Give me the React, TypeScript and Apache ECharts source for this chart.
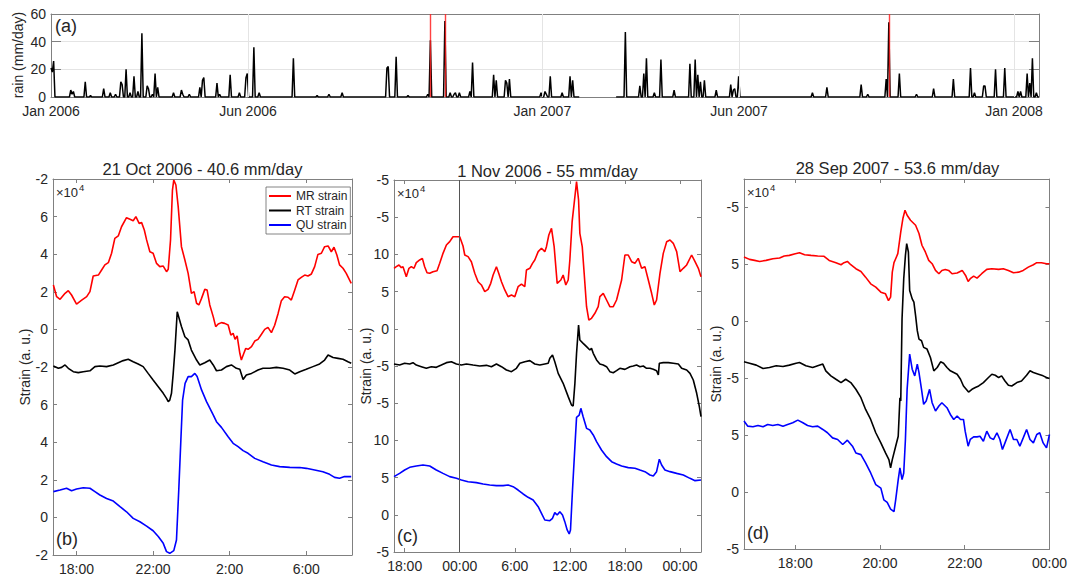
import React, { useEffect, useRef } from 'react';
import * as echarts from 'echarts';

const FONT = '"Liberation Sans", Arial, Helvetica, sans-serif';
const TXT = '#262626';
const AXC = '#808080';
const GRIDC = '#e4e4e4';

// ---------- (a) daily rain, x in plotted days ----------
const RAIN_END = 750;
const RAIN_GAP = [402, 428];
const RAIN_SPIKES: [number, number][] = [
  [0, 21], [1, 18], [2, 26], [15, 5], [16, 2], [17, 4], [26, 11], [30, 1], [40, 6], [45, 3], [49, 2],
  [53, 11], [54, 9], [57, 20], [60, 3], [63, 15], [66, 4], [69, 46], [73, 8], [74, 6], [77, 2], [79, 17],
  [81, 7], [93, 3], [99, 5], [100, 2], [105, 2], [113, 7], [115, 12], [116, 14], [126, 10], [128, 2],
  [136, 16], [143, 3], [148, 14], [149, 17], [154, 36], [158, 3], [184, 28], [202, 1], [211, 2], [221, 3],
  [255, 21], [256, 22], [262, 29], [271, 1], [286, 2], [288, 41], [299, 55], [303, 3], [306, 2], [307, 3],
  [310, 3], [318, 4], [320, 25], [336, 16], [338, 12], [345, 12], [346, 10], [348, 13], [372, 3], [375, 4],
  [376, 2], [379, 15], [388, 3], [394, 15], [396, 12], [436, 47], [447, 8], [450, 17], [452, 28], [458, 3],
  [463, 27], [473, 5], [485, 24], [489, 27], [491, 16], [493, 11], [496, 12], [505, 5], [516, 9], [518, 5],
  [519, 6], [522, 15], [578, 3], [589, 7], [615, 9], [620, 2], [634, 13], [636, 54], [644, 17], [657, 2],
  [670, 6], [685, 13], [698, 21], [701, 3], [708, 8], [709, 8], [717, 20], [724, 21], [734, 4], [736, 4],
  [741, 17], [743, 10], [745, 28], [748, 3],
];
const EVENT_DAYS = [288, 299, 636];
const TOP_TICKS = [0, 149.5, 373, 522.3, 731];
const TOP_LABELS = ['Jan 2006', 'Jun 2006', 'Jan 2007', 'Jun 2007', 'Jan 2008'];
const RAIN_TICKS = [0, 20, 40, 60];

// ---------- (b) 21 Oct 2006, x in hours from 21 Oct 00:00 ----------
const B_XTICKS = [18, 22, 26, 30];
const B_XLABELS = ['18:00', '22:00', '2:00', '6:00'];
const B_YTICKS = [-2, 0, 2, 4, 6, 8, 10, 12, 14, 16, 18];
const B_YLABELS = ['-2', '0', '2', '4', '6', '-2', '0', '2', '4', '6', '-2'];
const B_MR: [number, number][] = [[16.79,12.36],[16.96,11.74],[17.14,11.60],[17.40,11.92],[17.57,12.06],[17.74,11.83],[18.00,11.35],[18.27,11.56],[18.53,11.74],[18.70,12.01],[18.87,12.84],[19.14,12.89],[19.31,13.16],[19.48,13.43],[19.66,13.55],[19.83,14.05],[20.00,14.84],[20.18,14.97],[20.35,15.46],[20.61,15.94],[20.82,15.85],[20.96,15.78],[21.10,16.00],[21.27,15.64],[21.40,15.68],[21.54,15.29],[21.66,14.76],[21.83,14.13],[22.00,14.05],[22.18,13.51],[22.35,13.34],[22.53,13.37],[22.70,13.07],[22.79,13.20],[22.91,14.76],[23.01,17.41],[23.08,17.95],[23.19,17.68],[23.31,16.53],[23.48,14.40],[23.66,13.69],[23.83,12.98],[24.00,11.92],[24.14,12.01],[24.27,11.39],[24.39,11.30],[24.53,11.65],[24.70,12.13],[24.82,12.10],[24.96,11.30],[25.14,10.68],[25.27,10.15],[25.40,10.29],[25.57,10.36],[25.74,10.32],[25.92,10.23],[26.06,9.70],[26.18,9.79],[26.28,9.47],[26.39,9.65],[26.53,8.73],[26.61,8.37],[26.74,8.73],[26.84,8.99],[26.96,8.94],[27.14,9.08],[27.31,9.38],[27.48,9.47],[27.66,9.74],[27.83,10.00],[28.00,10.11],[28.18,9.83],[28.35,10.22],[28.53,10.85],[28.70,11.53],[28.87,11.74],[29.05,11.71],[29.22,11.56],[29.40,12.10],[29.57,12.63],[29.74,12.77],[29.92,12.89],[30.09,12.84],[30.27,12.95],[30.44,13.34],[30.61,13.99],[30.79,14.05],[30.96,14.40],[31.14,14.44],[31.31,14.13],[31.45,14.37],[31.60,13.96],[31.74,13.43],[31.92,13.25],[32.09,12.98],[32.35,12.45]];
const B_RT: [number, number][] = [[16.79,8.05],[17.05,7.93],[17.22,7.98],[17.40,8.11],[17.57,7.93],[17.83,7.75],[18.09,7.70],[18.35,7.75],[18.70,7.80],[18.96,8.02],[19.22,8.05],[19.57,8.02],[19.92,8.11],[20.18,8.23],[20.44,8.34],[20.70,8.41],[20.96,8.28],[21.22,8.16],[21.48,8.02],[21.74,7.66],[22.00,7.31],[22.27,6.95],[22.53,6.60],[22.70,6.33],[22.79,6.16],[22.87,6.24],[22.96,6.60],[23.05,7.66],[23.14,8.90],[23.26,10.94],[23.48,10.15],[23.66,9.61],[23.83,9.44],[24.00,8.90],[24.27,8.37],[24.44,8.11],[24.70,8.23],[24.96,8.37],[25.14,8.11],[25.31,7.80],[25.57,7.84],[25.83,8.02],[26.09,8.11],[26.35,7.93],[26.53,7.88],[26.70,7.34],[26.87,7.57],[27.14,7.66],[27.48,7.84],[27.74,7.93],[28.09,7.93],[28.44,7.98],[28.79,7.93],[29.14,7.84],[29.40,7.63],[29.66,7.75],[30.00,7.88],[30.35,8.02],[30.70,8.16],[30.96,8.37],[31.14,8.64],[31.40,8.51],[31.66,8.46],[31.92,8.41],[32.18,8.28],[32.35,8.20]];
const B_QU: [number, number][] = [[16.79,1.37],[17.14,1.46],[17.48,1.55],[17.74,1.42],[18.00,1.51],[18.35,1.58],[18.70,1.55],[18.96,1.37],[19.22,1.19],[19.57,1.01],[19.92,0.87],[20.27,0.57],[20.61,0.30],[20.96,-0.05],[21.31,-0.23],[21.66,-0.46],[22.00,-0.71],[22.27,-1.02],[22.53,-1.38],[22.70,-1.82],[22.87,-1.91],[23.08,-1.77],[23.22,-1.20],[23.34,1.46],[23.45,4.12],[23.54,6.24],[23.67,7.13],[23.83,7.49],[24.00,7.49],[24.18,7.66],[24.30,7.49],[24.53,6.78],[24.79,6.16],[25.14,5.45],[25.31,5.09],[25.57,4.79],[25.92,4.29],[26.18,3.94],[26.44,3.76],[26.70,3.55],[26.96,3.41],[27.31,3.14],[27.74,2.96],[28.18,2.79],[28.61,2.70],[29.14,2.66],[29.66,2.65],[30.00,2.61],[30.44,2.52],[30.87,2.43],[31.22,2.29],[31.48,2.13],[31.74,2.08],[32.00,2.17],[32.35,2.17]];

// ---------- (c) 1 Nov 2006, x in hours from 1 Nov 00:00 ----------
const C_XTICKS = [-6, 0, 6, 12, 18, 24];
const C_XLABELS = ['18:00', '00:00', '6:00', '12:00', '18:00', '00:00'];
const C_YTICKS = [-5, 0, 5, 10, 15, 20, 25, 30, 35, 40, 45];
const C_YLABELS = ['-5', '0', '5', '10', '-5', '-5', '0', '5', '10', '-5', '-5'];
const C_MR: [number, number][] = [[-7.16,33.13],[-6.91,33.35],[-6.62,33.58],[-6.36,33.22],[-6.18,33.35],[-5.82,32.01],[-5.53,33.13],[-5.27,33.35],[-4.98,33.13],[-4.73,33.89],[-4.36,34.25],[-4.07,34.47],[-3.82,33.35],[-3.56,32.54],[-3.27,32.46],[-2.91,32.68],[-2.47,32.81],[-2.18,33.80],[-1.82,35.14],[-1.45,36.26],[-1.09,36.71],[-0.73,37.38],[-0.36,37.38],[0,37.38],[0.36,36.13],[0.55,34.92],[0.91,34.70],[1.27,34.02],[1.64,32.46],[2.00,31.33],[2.36,30.89],[2.73,29.99],[3.09,30.30],[3.38,31.11],[3.64,32.23],[4.00,33.35],[4.25,32.46],[4.55,31.33],[4.91,30.22],[5.27,29.32],[5.64,29.54],[6.00,29.32],[6.36,30.66],[6.73,31.02],[7.09,30.66],[7.27,32.90],[7.64,33.13],[7.93,33.80],[8.18,34.25],[8.55,35.37],[8.91,35.82],[9.27,35.37],[9.45,36.04],[9.71,37.61],[10.00,38.50],[10.29,36.04],[10.62,31.11],[11.02,31.56],[11.27,32.23],[11.56,30.89],[11.82,31.56],[12.00,34.25],[12.25,39.40],[12.47,41.86],[12.73,44.78],[12.95,42.31],[13.09,37.83],[13.35,36.04],[13.56,32.46],[13.82,27.97],[14.07,26.18],[14.36,26.41],[14.73,27.08],[15.09,27.97],[15.27,29.32],[15.64,29.77],[16.00,28.87],[16.36,27.97],[16.73,27.97],[17.09,28.87],[17.64,31.56],[18.00,34.92],[18.36,34.92],[18.73,34.02],[19.09,33.80],[19.45,34.47],[19.82,33.13],[20.18,33.35],[20.55,31.56],[20.91,29.77],[21.20,28.20],[21.45,28.87],[21.82,32.46],[22.18,35.14],[22.55,36.71],[22.91,36.94],[23.27,36.49],[23.64,35.37],[24.00,32.68],[24.36,33.13],[24.73,33.58],[25.27,34.92],[25.64,34.02],[26.00,33.13],[26.29,32.01]];
const C_RT: [number, number][] = [[-7.16,20.27],[-6.55,20.13],[-6.00,20.36],[-5.45,20.27],[-5.09,20.45],[-4.73,20.13],[-4.18,19.91],[-3.64,19.69],[-3.09,19.91],[-2.55,19.82],[-2.00,20.13],[-1.45,20.45],[-0.91,20.58],[-0.36,20.27],[0.18,20.13],[0.73,20.27],[1.45,20.13],[2.18,20.00],[2.91,20.09],[3.45,19.91],[4.00,20.27],[4.55,19.91],[5.09,19.46],[5.64,19.24],[6.18,19.69],[6.55,20.36],[7.09,20.58],[7.64,20.72],[8.18,20.27],[8.73,20.13],[9.27,20.27],[9.64,20.36],[9.82,21.03],[10.11,21.48],[10.36,20.58],[10.73,19.01],[11.27,17.67],[11.82,15.88],[12.18,14.76],[12.36,14.62],[12.55,17.67],[12.73,21.70],[12.95,25.51],[13.09,23.49],[13.45,23.05],[13.82,22.60],[14.18,22.15],[14.36,22.37],[14.55,21.70],[14.91,20.81],[15.27,20.27],[15.64,20.13],[16.00,19.91],[16.36,19.24],[16.73,19.10],[17.09,19.37],[17.45,19.69],[18.00,19.55],[18.55,19.91],[18.91,20.00],[19.27,20.13],[19.64,19.91],[20.00,20.00],[20.36,19.69],[20.73,19.69],[21.09,19.55],[21.45,19.37],[21.64,18.79],[21.75,20.36],[22.18,20.45],[22.73,20.45],[23.27,20.36],[23.82,20.27],[24.18,19.69],[24.73,19.46],[25.09,19.01],[25.45,18.12],[25.82,16.33],[26.11,14.53],[26.29,13.19]];
const C_QU: [number, number][] = [[-7.16,5.13],[-6.55,5.57],[-6.00,6.02],[-5.45,6.38],[-4.73,6.56],[-4.00,6.69],[-3.27,6.56],[-2.55,6.02],[-1.82,5.57],[-1.09,5.13],[-0.36,4.90],[0.18,4.68],[0.91,4.45],[1.82,4.32],[2.55,4.14],[3.27,4.01],[4.00,3.92],[4.73,3.92],[5.27,4.01],[5.82,3.78],[6.36,3.33],[6.91,2.80],[7.45,2.35],[8.00,1.99],[8.55,1.09],[8.91,0.20],[9.27,-0.70],[9.82,-0.79],[10.11,-0.47],[10.36,0.29],[10.62,-0.03],[10.91,0.42],[11.20,-0.03],[11.45,-0.92],[11.71,-2.04],[11.93,-2.58],[12.07,-2.04],[12.29,3.33],[12.55,9.16],[12.73,13.10],[13.02,13.41],[13.20,14.31],[13.45,13.19],[13.82,11.62],[14.18,11.40],[14.55,10.73],[14.91,9.83],[15.45,8.71],[16.00,7.81],[16.55,7.14],[17.09,6.83],[17.64,6.56],[18.36,6.34],[19.09,6.25],[19.64,6.02],[20.18,5.80],[20.73,5.35],[21.09,5.22],[21.45,5.80],[21.75,7.46],[22.00,6.69],[22.36,6.02],[22.91,5.80],[23.64,5.57],[24.36,5.35],[25.09,4.90],[25.64,4.59],[26.29,4.68]];

// ---------- (d) 28 Sep 2007, x in hours from 28 Sep 00:00 ----------
const D_XTICKS = [18, 20, 22, 24];
const D_XLABELS = ['18:00', '20:00', '22:00', '00:00'];
const D_YTICKS = [-5, 0, 5, 10, 15, 20, 25];
const D_YLABELS = ['-5', '0', '5', '-5', '0', '5', '-5'];
const D_MR: [number, number][] = [[16.79,20.65],[16.92,20.44],[17.04,20.35],[17.16,20.26],[17.31,20.35],[17.47,20.50],[17.63,20.56],[17.74,20.74],[17.86,20.79],[18.00,20.94],[18.10,21.03],[18.22,20.85],[18.37,20.79],[18.53,20.74],[18.68,20.71],[18.80,20.35],[18.96,20.15],[19.08,19.97],[19.15,20.15],[19.23,20.26],[19.31,19.97],[19.43,19.62],[19.55,19.38],[19.66,18.88],[19.78,18.29],[19.90,18.00],[20.02,17.56],[20.13,17.41],[20.20,16.82],[20.25,17.12],[20.29,19.32],[20.33,20.15],[20.37,20.50],[20.42,20.94],[20.49,22.85],[20.54,24.03],[20.59,24.76],[20.64,24.32],[20.72,23.88],[20.84,23.44],[20.92,22.71],[20.99,21.68],[21.07,21.09],[21.15,20.35],[21.23,20.06],[21.31,19.47],[21.39,19.18],[21.46,19.47],[21.54,19.56],[21.62,19.47],[21.70,19.18],[21.82,19.24],[21.94,19.47],[22.02,19.03],[22.08,18.50],[22.13,18.74],[22.21,18.97],[22.29,18.79],[22.40,19.18],[22.52,19.56],[22.64,19.62],[22.80,19.56],[22.91,19.62],[23.03,19.47],[23.15,19.26],[23.27,19.32],[23.38,19.47],[23.50,19.76],[23.62,19.97],[23.70,20.15],[23.81,20.15],[23.93,20.06],[24.00,20.06]];
const D_RT: [number, number][] = [[16.79,11.44],[16.92,11.32],[17.08,11.15],[17.24,10.85],[17.39,10.94],[17.55,11.09],[17.71,11.03],[17.86,11.15],[18.02,11.32],[18.10,11.38],[18.25,11.09],[18.41,10.94],[18.53,11.09],[18.65,11.24],[18.72,10.65],[18.84,10.21],[18.96,9.91],[19.08,9.62],[19.19,9.91],[19.31,9.62],[19.43,9.03],[19.55,8.29],[19.66,7.26],[19.78,6.38],[19.90,5.21],[20.02,4.32],[20.13,3.44],[20.21,2.85],[20.25,2.12],[20.29,2.85],[20.37,4.03],[20.43,4.91],[20.47,8.29],[20.49,8.00],[20.52,15.21],[20.56,18.74],[20.60,20.79],[20.63,21.82],[20.67,21.09],[20.70,17.71],[20.76,16.97],[20.80,16.68],[20.84,15.50],[20.88,14.18],[20.92,13.44],[20.98,13.29],[21.03,12.71],[21.11,12.56],[21.19,11.82],[21.27,10.65],[21.35,10.94],[21.43,11.44],[21.50,11.32],[21.58,10.94],[21.66,10.65],[21.74,10.50],[21.82,10.35],[21.90,9.91],[21.97,9.32],[22.09,8.79],[22.17,9.03],[22.25,9.18],[22.33,9.32],[22.44,9.62],[22.56,10.06],[22.64,10.35],[22.72,10.26],[22.80,10.06],[22.87,10.21],[22.95,9.76],[23.03,9.38],[23.11,9.32],[23.23,9.62],[23.34,9.76],[23.46,10.26],[23.54,10.65],[23.62,10.50],[23.74,10.35],[23.85,10.21],[23.93,10.06],[24.00,9.97]];
const D_QU: [number, number][] = [[16.79,6.24],[16.88,5.79],[17.00,5.74],[17.12,5.85],[17.24,5.74],[17.35,5.94],[17.47,5.85],[17.59,5.94],[17.71,5.79],[17.82,5.94],[17.94,6.09],[18.06,6.32],[18.18,6.09],[18.29,5.85],[18.41,5.74],[18.53,5.79],[18.65,5.50],[18.76,5.21],[18.88,4.76],[19.00,4.62],[19.12,4.18],[19.23,4.56],[19.35,4.03],[19.43,3.44],[19.55,3.29],[19.66,2.56],[19.78,1.68],[19.90,0.65],[20.02,0.35],[20.09,-0.68],[20.17,-0.91],[20.25,-1.50],[20.33,-1.71],[20.37,-0.68],[20.43,1.09],[20.47,2.12],[20.52,1.09],[20.56,1.68],[20.60,4.62],[20.64,9.03],[20.70,12.12],[20.76,10.79],[20.82,10.21],[20.88,11.24],[20.92,10.50],[20.98,9.03],[21.03,7.71],[21.09,8.00],[21.17,9.03],[21.23,7.85],[21.31,7.12],[21.39,7.56],[21.46,7.85],[21.58,7.41],[21.66,6.82],[21.74,6.38],[21.82,6.68],[21.90,6.38],[21.97,6.38],[22.01,5.35],[22.08,4.03],[22.13,4.62],[22.21,4.85],[22.29,4.85],[22.36,4.91],[22.44,4.47],[22.52,5.35],[22.60,4.76],[22.68,4.62],[22.76,5.21],[22.83,4.62],[22.89,3.74],[22.95,4.32],[23.07,5.50],[23.15,4.62],[23.23,4.62],[23.30,4.03],[23.38,4.76],[23.46,5.50],[23.54,4.62],[23.62,4.32],[23.70,5.06],[23.77,5.21],[23.85,4.32],[23.93,3.88],[24.00,5.06]];

const TITLES = ['21 Oct 2006 - 40.6 mm/day', '1 Nov 2006 - 55 mm/day', '28 Sep 2007 - 53.6 mm/day'];
const TITLE_Y = [169, 170.5, 167.5];
const PANEL_TAGS = ['(b)', '(c)', '(d)'];
const SERIES_NAMES = ['MR strain', 'RT strain', 'QU strain'];
const SERIES_COLORS = ['#ff0000', '#000000', '#0000ff'];

const GRIDS = [
  { left: 51, top: 14, width: 988, height: 83 },
  { left: 53, top: 179, width: 299, height: 376 },
  { left: 394, top: 180, width: 307, height: 372 },
  { left: 744, top: 179, width: 307, height: 370 },
];

function lookup(ticks: number[], labels: string[]) {
  return (v: number) => {
    const i = ticks.findIndex((t) => Math.abs(t - v) < 1e-6);
    return i >= 0 ? labels[i] : '';
  };
}

function xPair(gi: number, min: number, max: number, ticks: number[], labels: string[], tickLen: number) {
  const common = {
    type: 'value', gridIndex: gi, min, max,
    axisLine: { show: true, onZero: false, lineStyle: { color: AXC, width: 1 } },
    axisTick: { show: true, inside: true, length: tickLen, customValues: ticks, lineStyle: { color: AXC, width: 1 } },
    splitLine: { show: false },
  };
  return [
    { ...common, position: 'bottom',
      axisLabel: { show: true, customValues: ticks, formatter: lookup(ticks, labels), color: TXT, fontSize: 14, fontFamily: FONT, margin: 7 } },
    { ...common, position: 'top', axisLabel: { show: false } },
  ];
}

function yPair(gi: number, min: number, max: number, ticks: number[], labels: string[], tickLen: number, split = false) {
  const common = {
    type: 'value', gridIndex: gi, min, max,
    axisLine: { show: true, onZero: false, lineStyle: { color: AXC, width: 1 } },
    axisTick: { show: true, inside: true, length: tickLen, customValues: ticks, lineStyle: { color: AXC, width: 1 } },
  };
  return [
    { ...common, position: 'left',
      splitLine: { show: split, lineStyle: { color: GRIDC, width: 1 } },
      axisLabel: { show: true, customValues: ticks, formatter: lookup(ticks, labels), color: TXT, fontSize: 14, fontFamily: FONT, margin: 5 } },
    { ...common, position: 'right', splitLine: { show: false }, axisLabel: { show: false } },
  ];
}

function rainSegment(from: number, to: number) {
  const out: [number, number][] = [];
  for (let d = from; d <= to; d++) {
    const hit = RAIN_SPIKES.find((s) => s[0] === d);
    out.push([d, hit ? hit[1] : 0]);
  }
  return out;
}

function strainSeries(panel: number, data: [number, number][][]) {
  const ax = panel * 2;
  return data.map((d, k) => ({
    type: 'line', name: SERIES_NAMES[k], xAxisIndex: ax, yAxisIndex: ax, data: d,
    showSymbol: false, symbol: 'none', clip: true, z: 3,
    lineStyle: { color: SERIES_COLORS[k], width: 1.6 },
    itemStyle: { color: SERIES_COLORS[k] },
  }));
}

function buildOption() {
  const xAxis = [
    ...xPair(0, 0, RAIN_END, TOP_TICKS, TOP_LABELS, 10),
    ...xPair(1, 16.77, 32.39, B_XTICKS, B_XLABELS, 4),
    ...xPair(2, -7.16, 26.29, C_XTICKS, C_XLABELS, 4),
    ...xPair(3, 16.79, 24, D_XTICKS, D_XLABELS, 4),
  ];
  const yAxis = [
    ...yPair(0, 0, 60, RAIN_TICKS, RAIN_TICKS.map(String), 10, true),
    ...yPair(1, -2, 18, B_YTICKS, B_YLABELS, 4),
    ...yPair(2, -5, 45, C_YTICKS, C_YLABELS, 4),
    ...yPair(3, -5, 27.5, D_YTICKS, D_YLABELS, 4),
  ];
  const series: any[] = [
    {
      type: 'line', name: 'grid', xAxisIndex: 0, yAxisIndex: 0, data: [[0, 0]], showSymbol: false,
      lineStyle: { opacity: 0 }, z: 1, silent: true,
      markLine: { silent: true, symbol: 'none', label: { show: false }, animation: false,
        lineStyle: { color: GRIDC, width: 1, type: 'solid' },
        data: TOP_TICKS.slice(1).map((t) => ({ xAxis: t })) },
    },
    {
      type: 'line', name: 'events', xAxisIndex: 0, yAxisIndex: 0, data: [[0, 0]], showSymbol: false,
      lineStyle: { opacity: 0 }, z: 2, silent: true,
      markLine: { silent: true, symbol: 'none', label: { show: false }, animation: false,
        lineStyle: { color: '#ff2020', width: 1.4, type: 'solid', opacity: 0.85 },
        data: EVENT_DAYS.map((t) => ({ xAxis: t })) },
    },
    {
      type: 'line', name: 'rain1', xAxisIndex: 0, yAxisIndex: 0, data: rainSegment(0, RAIN_GAP[0] - 1),
      showSymbol: false, symbol: 'none', z: 3, lineStyle: { color: '#000', width: 1.5 },
    },
    {
      type: 'line', name: 'rain2', xAxisIndex: 0, yAxisIndex: 0, data: rainSegment(RAIN_GAP[1] + 1, RAIN_END),
      showSymbol: false, symbol: 'none', z: 3, lineStyle: { color: '#000', width: 1.5 },
    },
    ...strainSeries(1, [B_MR, B_RT, B_QU]),
    ...strainSeries(2, [C_MR, C_RT, C_QU]),
    ...strainSeries(3, [D_MR, D_RT, D_QU]),
    {
      type: 'line', name: 'midnight', xAxisIndex: 4, yAxisIndex: 4, data: [[0, 0]], showSymbol: false,
      lineStyle: { opacity: 0 }, z: 2, silent: true,
      markLine: { silent: true, symbol: 'none', label: { show: false }, animation: false,
        lineStyle: { color: '#555', width: 1, type: 'solid' }, data: [{ xAxis: 0 }] },
    },
  ];

  const graphic: any[] = [];
  const txt = (text: string, x: number, y: number, size: number, align = 'left', rot = 0) => ({
    type: 'text', x, y, rotation: rot, silent: true, z: 100,
    style: { text, fill: TXT, font: `${size}px ${FONT}`, textAlign: align, textVerticalAlign: 'middle' },
  });
  [1, 2, 3].forEach((gi, k) => {
    const g = GRIDS[gi];
    graphic.push(txt(TITLES[k], g.left + g.width / 2, TITLE_Y[k], 16.5, 'center'));
    graphic.push(txt('\u00d710', g.left + 3, g.top + 13, 13));
    graphic.push(txt('4', g.left + 26, g.top + 8, 9.5));
    graphic.push(txt('Strain (a. u.)', g.left - 28, g.top + g.height / 2, 14, 'center', Math.PI / 2));
    graphic.push(txt(PANEL_TAGS[k], g.left + 3, g.top + g.height - 16, 18));
  });
  graphic.push(txt('rain (mm/day)', 18, 55, 14, 'center', Math.PI / 2));
  graphic.push(txt('(a)', 55, 26, 18));

  return {
    animation: false,
    backgroundColor: '#ffffff',
    textStyle: { fontFamily: FONT },
    grid: GRIDS.map((g) => ({ ...g, containLabel: false })),
    xAxis,
    yAxis,
    series,
    legend: {
      data: SERIES_NAMES, orient: 'vertical', left: 266, top: 187,
      icon: 'rect', itemWidth: 22, itemHeight: 2, itemGap: 0.5,
      padding: [2, 3, 2, 3], borderColor: '#666', borderWidth: 0.8, backgroundColor: '#fff',
      selectedMode: false,
      textStyle: { fontSize: 12, color: TXT, fontFamily: FONT, lineHeight: 14 },
    },
    graphic,
  };
}

export default function App() {
  const ref = useRef<HTMLDivElement>(null);
  useEffect(() => {
    if (!ref.current) return;
    const chart = echarts.init(ref.current, null, { renderer: 'svg' });
    chart.setOption(buildOption() as any);
    return () => chart.dispose();
  }, []);
  return (
    <div
      ref={ref}
      style={{ position: 'fixed', left: 0, top: 0, width: 1070, height: 578, background: '#fff' }}
    />
  );
}
